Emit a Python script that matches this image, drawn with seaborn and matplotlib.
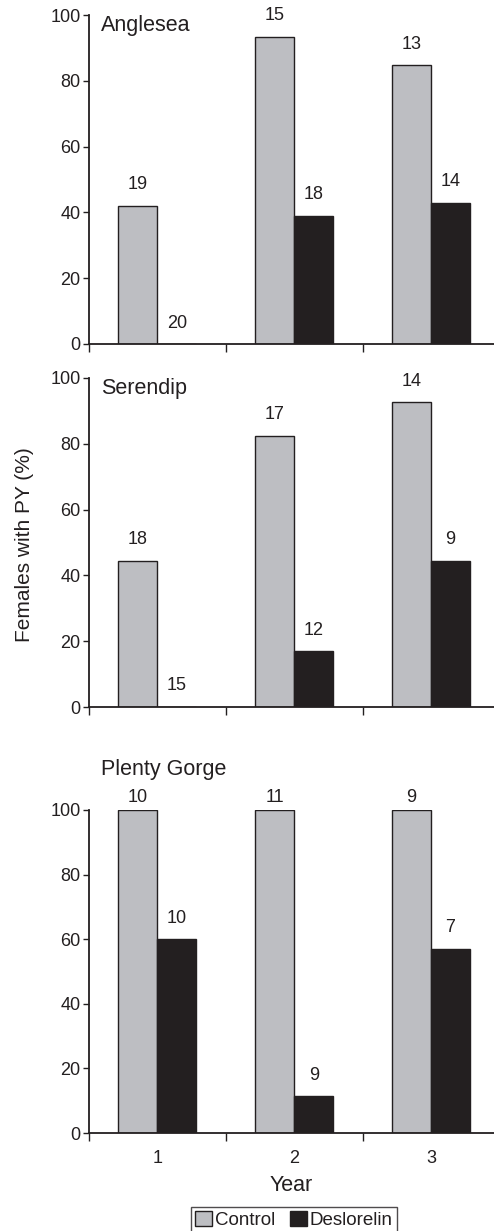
import matplotlib
matplotlib.use("Agg")
import matplotlib.pyplot as plt
from matplotlib.patches import Patch
import seaborn as sns
import pandas as pd

# values
sites = ["Anglesea", "Serendip", "Plenty Gorge"]
years = ["1", "2", "3"]
treatments = ["Control", "Deslorelin"]

control_pct = [[42.0, 93.4, 84.7],
               [44.4, 82.5, 92.7],
               [100.0, 100.0, 100.0]]
deslorelin_pct = [[0.0, 39.0, 43.0],
                  [0.0, 16.9, 44.4],
                  [60.0, 11.4, 57.1]]
control_n = [[19, 15, 13],
             [18, 17, 14],
             [10, 11, 9]]
deslorelin_n = [[20, 18, 14],
                [15, 12, 9],
                [10, 9, 7]]

rows = []
for s, site in enumerate(sites):
    for y, year in enumerate(years):
        rows.append(dict(site=site, year=year, treatment="Control",
                         pct=control_pct[s][y], n=control_n[s][y]))
        rows.append(dict(site=site, year=year, treatment="Deslorelin",
                         pct=deslorelin_pct[s][y], n=deslorelin_n[s][y]))
df = pd.DataFrame(rows)

sns.set_style("ticks")
plt.rcParams['font.family'] = ['Liberation Sans', 'DejaVu Sans']
plt.rcParams['text.color'] = '#231F20'
plt.rcParams['axes.labelcolor'] = '#231F20'
plt.rcParams['xtick.color'] = '#231F20'
plt.rcParams['ytick.color'] = '#231F20'

grey = '#BDBEC2'
dark = '#231F20'
fs_tick = 13
fs_lab = 13
fs_title = 15.5

fig = plt.figure(figsize=(4.94, 12.31), dpi=100)
W, H = 494, 1231
# (top px, bottom px) for each panel
panel_px = [(15, 344), (378, 707), (810, 1133)]
left_px, right_px = 89, 494

for i, site in enumerate(sites):
    top, bot = panel_px[i]
    ax = fig.add_axes([left_px / W, 1 - bot / H, (right_px - left_px) / W, (bot - top) / H])
    sub = df[df.site == site]
    sns.barplot(data=sub, x="year", y="pct", hue="treatment", order=years,
                hue_order=treatments, palette=[grey, dark], width=0.57,
                ax=ax, legend=False, saturation=1)
    for cont, ns in zip(ax.containers, [control_n[i], deslorelin_n[i]]):
        for bar, n in zip(cont, ns):
            bar.set_edgecolor(dark)
            bar.set_linewidth(1.0)
            h = bar.get_height()
            off = 3 if h >= 99 else 9
            ax.annotate(str(n), (bar.get_x() + bar.get_width() / 2, h),
                        xytext=(0, off), textcoords="offset points",
                        ha="center", va="bottom", fontsize=fs_lab, color=dark)

    ax.set_xlim(-0.5, 2.46)
    ax.set_ylim(0, 100)
    ax.set_yticks([0, 20, 40, 60, 80, 100])
    ax.tick_params(axis="y", labelsize=fs_tick, length=4, width=1, pad=2)
    ax.set_xticks([-0.5, 0.5, 1.5], minor=False)
    ax.set_xticklabels([])
    ax.tick_params(axis="x", which="major", length=6, width=1)
    if i == 2:
        ax.set_xticks([0, 1, 2], minor=True)
        ax.set_xticklabels(years, minor=True)
        ax.tick_params(axis="x", which="minor", length=0, pad=12, labelsize=fs_tick)
        ax.set_xlabel("Year", fontsize=fs_title, labelpad=6)
        ax.text(0.03, 1.108, site, transform=ax.transAxes, fontsize=fs_title,
                ha="left", va="baseline", color=dark)
    else:
        ax.set_xlabel("")
        ax.text(0.03, 0.952, site, transform=ax.transAxes, fontsize=fs_title,
                ha="left", va="baseline", color=dark)
    ax.set_ylabel("")
    sns.despine(ax=ax)
    for sp in ["left", "bottom"]:
        ax.spines[sp].set_linewidth(1.3)
        ax.spines[sp].set_color(dark)

fig.text(25 / W, 1 - 545 / H, "Females with PY (%)", rotation=90,
         ha="center", va="center", fontsize=15, color=dark)

handles = [Patch(facecolor=grey, edgecolor=dark, linewidth=1.0),
           Patch(facecolor=dark, edgecolor=dark, linewidth=1.0)]
leg = fig.legend(handles, treatments, loc="upper center",
                 bbox_to_anchor=(294 / W, 1 - 1207 / H), ncol=2, fontsize=13.5,
                 frameon=True, fancybox=False, handlelength=0.9, handleheight=0.9,
                 handletextpad=0.15, columnspacing=0.8, borderpad=0.2,
                 borderaxespad=0)
leg.get_frame().set_edgecolor(dark)
leg.get_frame().set_linewidth(1.0)

fig.savefig("out.png", dpi=100)
